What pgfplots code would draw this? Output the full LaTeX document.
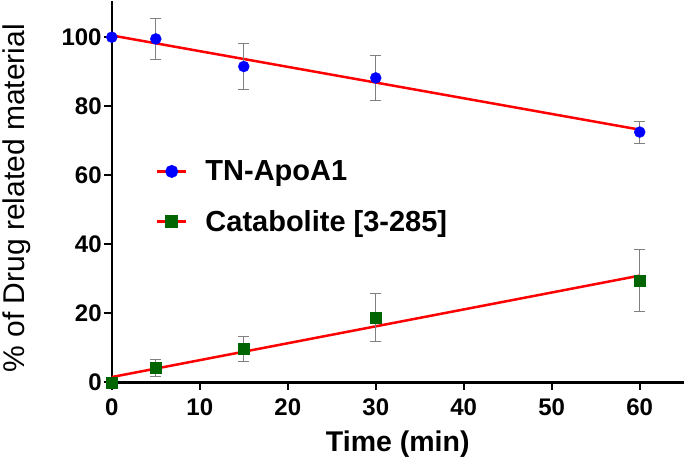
\documentclass[border=0pt]{standalone}
\usepackage{fontspec}
\setmainfont{Liberation Sans}
\usepackage{pgfplots}
\pgfplotsset{compat=1.18}
\definecolor{mkblue}{RGB}{0,0,255}
\definecolor{mkgreen}{RGB}{0,100,0}
\definecolor{errgray}{RGB}{128,128,128}
\begin{document}
\begin{tikzpicture}
\begin{axis}[
  scale only axis,
  width=572bp, height=381bp,
  xmin=0, xmax=65, ymin=0, ymax=110.4,
  axis lines*=left,
  axis line style={line width=2.6bp, black},
  tick style={line width=2.4bp, black},
  major tick length=8bp,
  tick align=outside,
  xtick={0,10,20,30,40,50,60},
  ytick={0,20,40,60,80,100},
  /pgf/number format/assume math mode=true,
  ticklabel style={font=\fontsize{24bp}{28bp}\selectfont\bfseries, inner sep=2bp},
  xticklabel style={yshift=-6bp},
  xlabel={Time (min)},
  ylabel={\% of Drug related material},
  xlabel style={font=\fontsize{28.5bp}{32bp}\selectfont\bfseries, at={(axis description cs:0.5,-0.181)}, anchor=base, inner sep=0pt},
  ylabel style={font=\fontsize{30bp}{34bp}\selectfont, at={(axis description cs:-0.1906,0.483)}, anchor=north, inner sep=0pt},
  legend image code/.code={\draw[mark repeat=2,mark phase=2,#1] plot coordinates {(0bp,0bp) (14.5bp,0bp) (29bp,0bp)};},
  legend style={at={(axis description cs:0.0769,0.582)}, anchor=north west, draw=none, fill=none,
    font=\fontsize{29bp}{33bp}\selectfont\bfseries, inner sep=0pt,
    nodes={inner sep=0pt}, row sep=28bp, column sep=18bp},
  legend cell align=left,
  clip=false,
]
% legend entries
\addlegendimage{red, line width=2.5bp, mark=*, mark size=5.2bp, mark options={solid, fill=mkblue, draw=mkblue}}
\addlegendentry{TN-ApoA1}
\addlegendimage{red, line width=2.5bp, mark=square*, mark size=5.2bp, mark options={solid, fill=mkgreen, draw=mkgreen}}
\addlegendentry{Catabolite [3-285]}
% fit lines
\addplot[red, line width=2.5bp, forget plot] coordinates {(0,100.5) (60,73.2)};
\addplot[red, line width=2.5bp, forget plot] coordinates {(0,1.5) (60,30.9)};
% TN-ApoA1
\addplot[only marks, mark=*, mark size=5.5bp, mark options={fill=mkblue, draw=mkblue}, forget plot,
  error bars/.cd, y dir=both, y explicit,
  error bar style={errgray, line width=0.9bp},
  error mark options={errgray, line width=0.9bp, mark size=5.5bp, rotate=90}]
  coordinates {
  (0,100) +- (0,0)
  (5,99.5) +- (0,6.0)
  (15,91.5) +- (0,6.6)
  (30,88.2) +- (0,6.6)
  (60,72.5) +- (0,3.2)
  };
% Catabolite
\addplot[only marks, mark=square*, mark size=5.5bp, mark options={fill=mkgreen, draw=mkgreen}, forget plot,
  error bars/.cd, y dir=both, y explicit,
  error bar style={errgray, line width=0.9bp},
  error mark options={errgray, line width=0.9bp, mark size=5.5bp, rotate=90}]
  coordinates {
  (0,0) +- (0,0)
  (5,4.2) +- (0,2.4)
  (15,9.6) +- (0,3.6)
  (30,18.8) +- (0,7.0)
  (60,29.5) +- (0,9.0)
  };
\end{axis}
\path ([xshift=-3bp]current bounding box.west);
\end{tikzpicture}
\end{document}
